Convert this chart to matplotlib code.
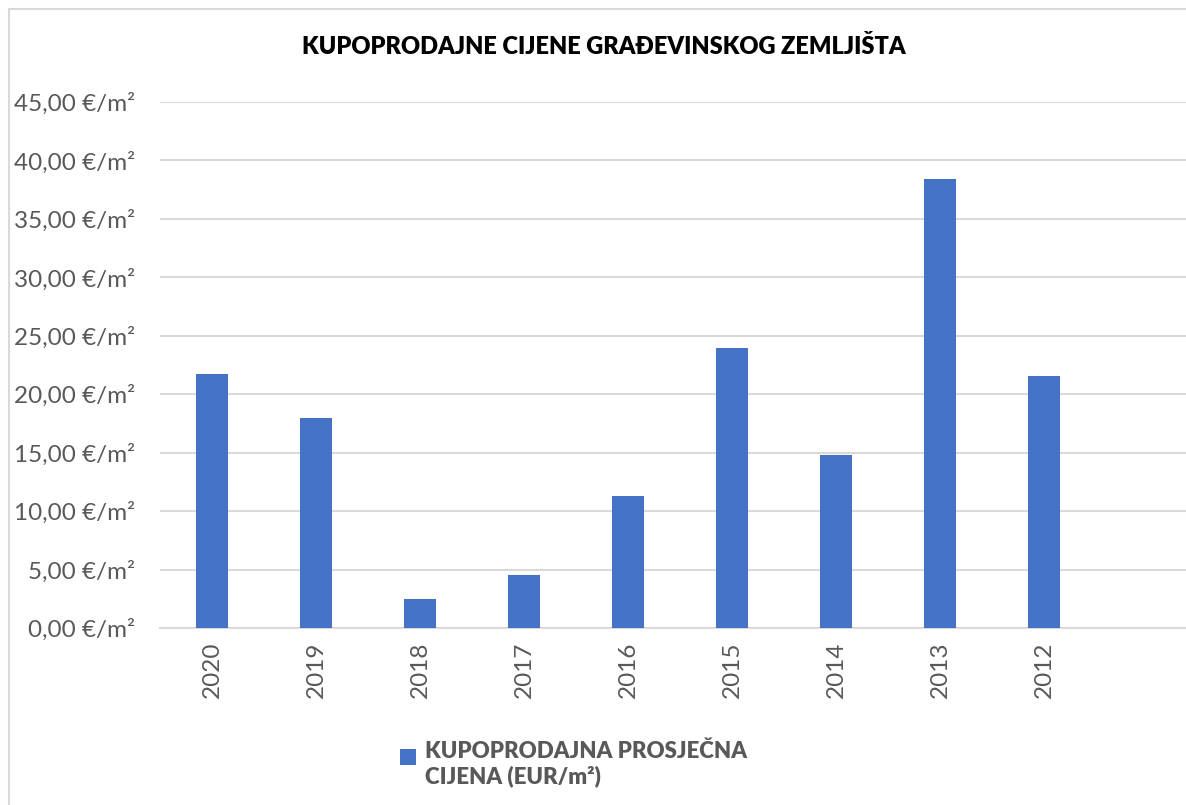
import matplotlib
matplotlib.use("Agg")
import matplotlib.pyplot as plt
from matplotlib.patches import Patch, Rectangle

years = ["2020", "2019", "2018", "2017", "2016", "2015", "2014", "2013", "2012"]
prices = [21.70, 17.95, 2.45, 4.56, 11.28, 23.99, 14.76, 38.43, 21.56]
y_ticks = [0, 5, 10, 15, 20, 25, 30, 35, 40, 45]

bar_color = "#4472C4"
grid_color = "#D9D9D9"
text_gray = "#595959"

plt.rcParams['font.family'] = ['Lato', 'DejaVu Sans']


class TopSquareHandler:
    # square aligned to the first line of a two-line label
    def legend_artist(self, legend, orig_handle, fontsize, handlebox):
        size = 0.72 * fontsize
        x0, y0 = handlebox.xdescent, handlebox.ydescent
        h = handlebox.height
        sq = Rectangle((-x0, -y0 + h - size - 0.15 * fontsize), size, size,
                       facecolor=bar_color, edgecolor="none",
                       transform=handlebox.get_transform())
        handlebox.add_artist(sq)
        return sq


fig = plt.figure(figsize=(11.86, 8.05), dpi=100)
ax = fig.add_axes([160 / 1186, 177 / 805, 1026 / 1186, 526 / 805])

x = list(range(len(years)))
ax.bar(x, prices, width=0.31, color=bar_color, zorder=3)

ax.set_xlim(-0.5, -0.5 + 1026 / 104)
ax.set_ylim(0, 45)
ax.set_yticks(y_ticks)
ax.set_yticklabels([f"{v:.2f}".replace(".", ",") + " €/m²" for v in y_ticks],
                   fontsize=17.5, color=text_gray)
ax.set_xticks(x)
ax.set_xticklabels(years, rotation=90, fontsize=17.5, color=text_gray)
ax.tick_params(axis="both", length=0)
ax.tick_params(axis="y", pad=18)
ax.tick_params(axis="x", pad=10)
ax.grid(axis="y", color=grid_color, linewidth=1.5, zorder=0)
for side in ["top", "right", "left"]:
    ax.spines[side].set_visible(False)
ax.spines["bottom"].set_color(grid_color)
ax.spines["bottom"].set_linewidth(1.5)

fig.text(604 / 1186, 1 - 47 / 805, "KUPOPRODAJNE CIJENE GRAĐEVINSKOG ZEMLJIŠTA",
         ha="center", va="center", fontsize=17, fontweight="heavy", color="black")

leg_handle = Patch(color=bar_color)
fig.legend(handles=[leg_handle], labels=["KUPOPRODAJNA PROSJEČNA\nCIJENA (EUR/m²)"],
           handler_map={leg_handle: TopSquareHandler()},
           loc="upper left", bbox_to_anchor=(380 / 1186, 1 - 721 / 805),
           frameon=False, handlelength=0.72, handleheight=2.4,
           handletextpad=0.4, labelcolor=text_gray,
           prop={"weight": "heavy", "size": 16})

fig.patches.append(Rectangle((9 / 1186, -0.1), 1.2, 1.1 - 9 / 805, transform=fig.transFigure,
                             fill=False, edgecolor=grid_color, linewidth=1.5))

fig.savefig("out.png", dpi=100)
